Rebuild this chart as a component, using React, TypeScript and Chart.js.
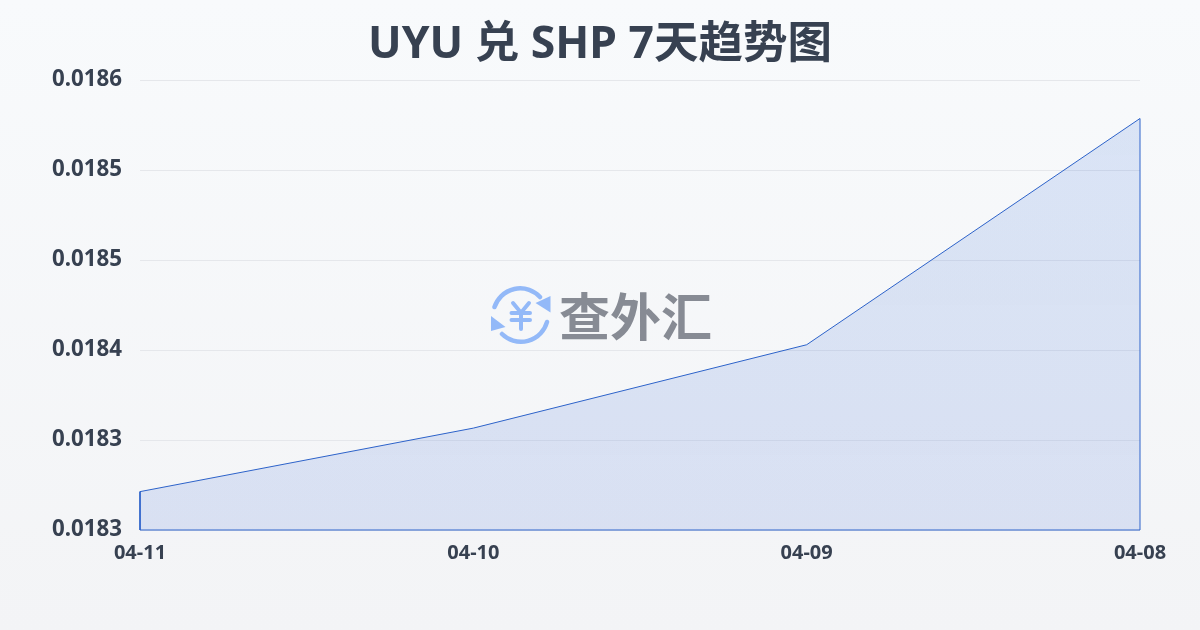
import React, { useEffect, useRef } from "react";
import { Chart, registerables } from "chart.js";

Chart.register(...registerables);

const titleText = "UYU 兑 SHP 7天趋势图";
const categories = ["04-11", "04-10", "04-09", "04-08"];
const rateValues = [0.018289, 0.018337, 0.0184, 0.018571];
const axisTicks = [0.01826, 0.018328, 0.018396, 0.018464, 0.018532, 0.0186];
const axisMin = 0.01826;
const axisMax = 0.0186;
const FONT = '"Noto Sans", "Noto Sans CJK SC", sans-serif';

export default function App() {
  const ref = useRef<HTMLCanvasElement>(null);
  useEffect(() => {
    document.body.style.margin = "0";
    const chart = new Chart(ref.current!, {
      type: "line",
      data: {
        labels: categories,
        datasets: [
          {
            label: "rate",
            data: rateValues,
            borderColor: "#2c62c9",
            borderWidth: 1,
            pointRadius: 0,
            tension: 0,
            fill: "start",
            backgroundColor: (ctx: any) => {
              const { chartArea, ctx: c } = ctx.chart;
              if (!chartArea) return "rgba(44,98,201,0.15)";
              const g = c.createLinearGradient(0, chartArea.top, 0, chartArea.bottom);
              g.addColorStop(0, "rgba(44,104,220,0.145)");
              g.addColorStop(1, "rgba(44,92,210,0.135)");
              return g;
            },
          },
          {
            label: "outline",
            data: [
              { x: categories[0], y: rateValues[0] },
              { x: categories[0], y: axisMin },
              { x: categories[3], y: axisMin },
              { x: categories[3], y: rateValues[3] },
            ],
            borderColor: "#2c62c9",
            borderWidth: 1,
            pointRadius: 0,
            tension: 0,
            fill: false,
            clip: false,
          },
        ],
      },
      options: {
        responsive: false,
        animation: false,
        layout: { padding: 0 },
        plugins: {
          legend: { display: false },
          tooltip: { enabled: false },
          title: {
            display: true,
            text: titleText,
            color: "#374151",
            font: { family: FONT, size: 44.5, weight: "bold" },
            padding: { top: 18.6, bottom: 8.1 },
          },
        },
        scales: {
          x: {
            offset: false,
            grid: { display: false, drawTicks: true, tickLength: 8, color: "rgba(226,232,240,0.6)" },
            border: { display: false },
            ticks: {
              color: "#374151",
              font: { family: FONT, size: 20, weight: "bold" },
              maxRotation: 0,
              padding: 3,
            },
            afterFit: (s: any) => { s.height = 100; },
          },
          y: {
            min: axisMin,
            max: axisMax,
            afterBuildTicks: (s: any) => { s.ticks = axisTicks.map((value) => ({ value })); },
            grid: { color: "#e5e7eb", lineWidth: 1, drawTicks: false },
            border: { display: false },
            ticks: {
              color: "#374151",
              font: { family: FONT, size: 22.3, weight: "bold" },
              padding: 18,
              callback: (v: any) => Number(v).toFixed(4),
            },
            afterFit: (s: any) => { s.width = 140; },
          },
          rightSpacer: {
            type: "linear",
            position: "right",
            grid: { display: false, drawTicks: false },
            border: { display: false },
            ticks: { display: false },
            afterFit: (s: any) => { s.width = 60; },
          },
        },
      } as any,
    });
    return () => chart.destroy();
  }, []);

  return (
    <div
      style={{
        position: "relative",
        width: 1200,
        height: 630,
        overflow: "hidden",
        background: "linear-gradient(180deg, #f8fafc 0%, #f3f4f6 100%)",
      }}
    >
      <canvas ref={ref} width={1200} height={630} style={{ display: "block", position: "absolute", left: 0, top: 0 }} />
      <svg
        width={60}
        height={60}
        viewBox="0 0 60 60"
        style={{ position: "absolute", left: 490.5, top: 285 }}
        fill="none"
        stroke="#93b9f8"
        strokeWidth={4.5}
        strokeLinecap="round"
      >
        <path d="M3.5 22 A27 27 0 0 1 49 12" />
        <path d="M56 37 A27 27 0 0 1 11 49" />
        <path d="M59.5 11 L59.5 27.5 L44.5 18 Z" fill="#93b9f8" stroke="none" />
        <path d="M0 31 L0 46 L14.5 42 Z" fill="#93b9f8" stroke="none" />
        <path d="M22 18 L30 27.7 L38 18 M20.5 28 H39 M20.5 35 H39 M30 28 V44" strokeWidth={4} />
      </svg>
      <div
        style={{
          position: "absolute",
          left: 559,
          top: 278,
          fontFamily: '"Noto Sans CJK SC", sans-serif',
          fontWeight: 700,
          fontSize: 51,
          lineHeight: "72px",
          color: "#878b94",
          whiteSpace: "nowrap",
        }}
      >
        查外汇
      </div>
    </div>
  );
}
